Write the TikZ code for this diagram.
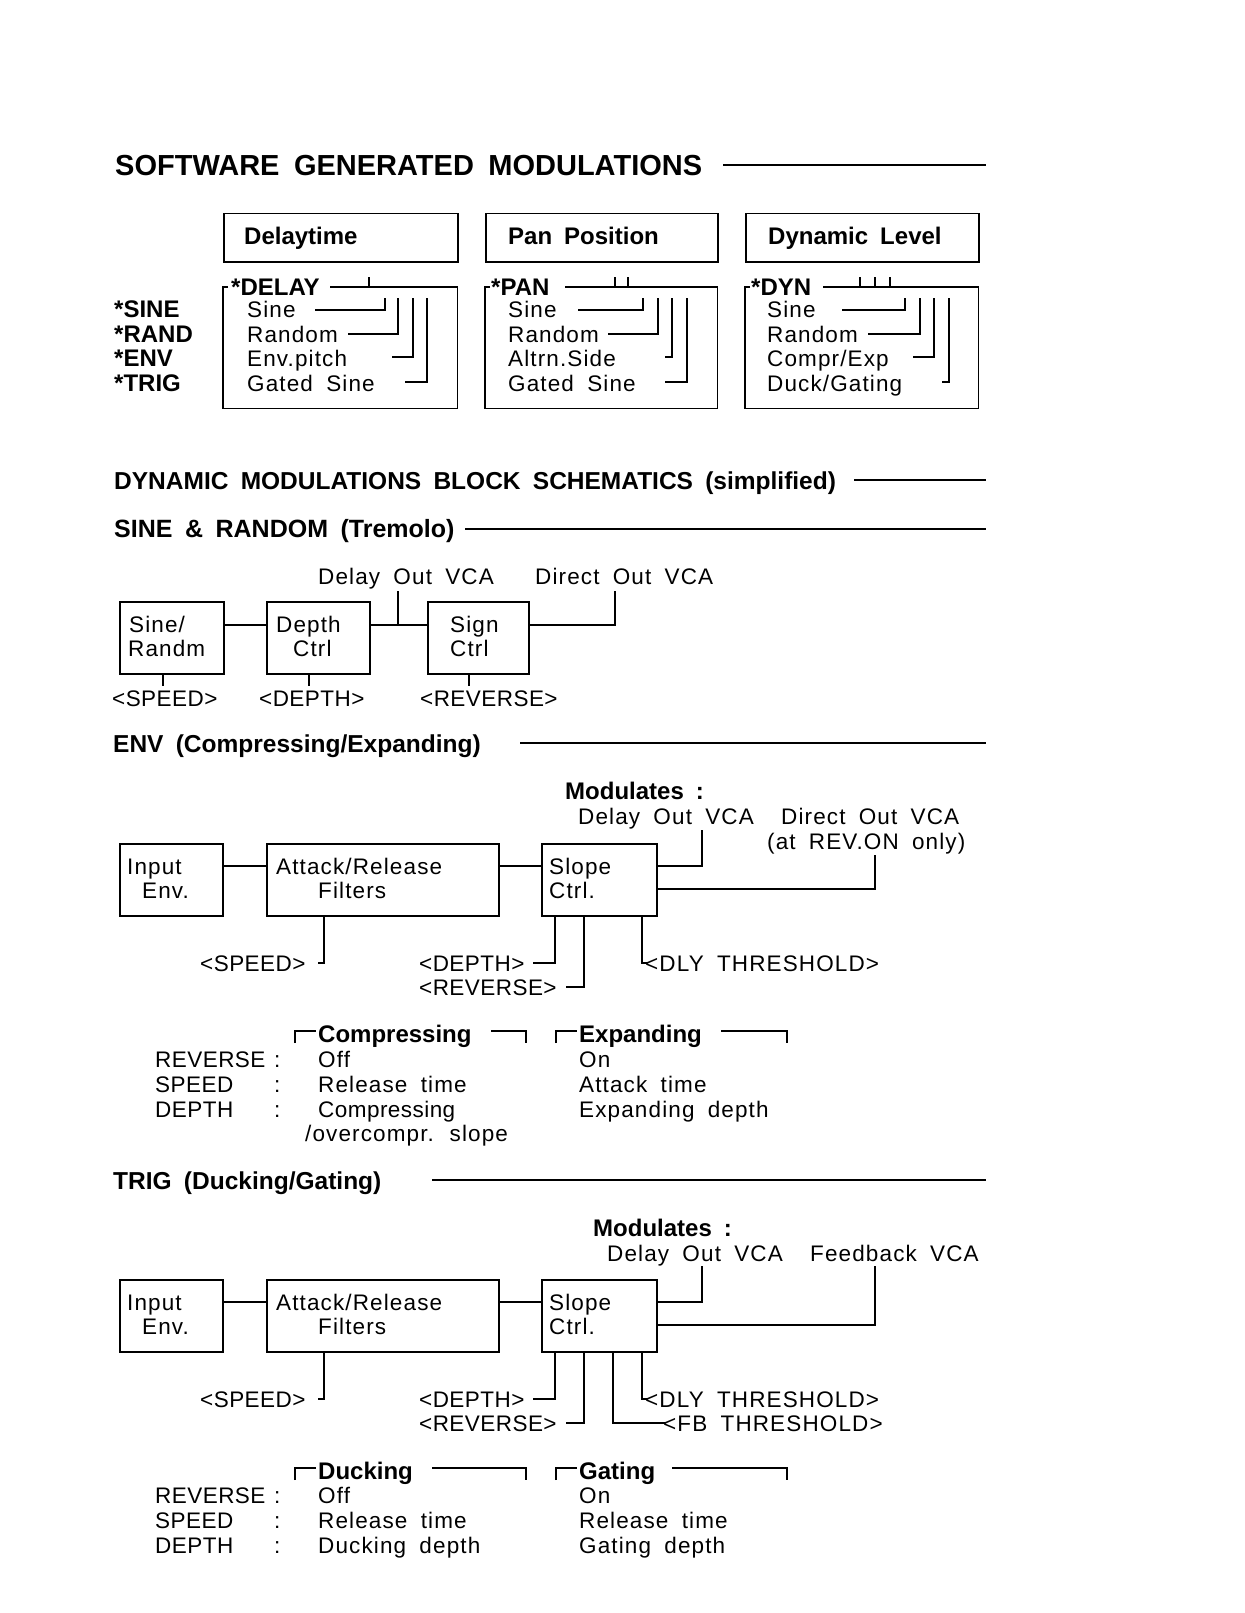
\documentclass[tikz,border=0pt]{standalone}
\usepackage{fontspec}
\setmainfont{Liberation Sans}
\newfontfamily\rfam{Liberation Sans}[LetterSpace=5,WordSpace=1.8]
\newfontfamily\nfam{Liberation Sans}[LetterSpace=2,WordSpace=1.5]
\newfontfamily\bfam{Liberation Sans}[WordSpace=1.8]
\tikzset{
 box/.style={draw, line width=1.5pt, inner sep=0pt, anchor=north west},
 frame/.style={inner sep=0pt, anchor=north west},
 rt/.style={anchor=base west, inner sep=0pt, font=\rfam\fontsize{22.5}{26}\selectfont},
 nt/.style={anchor=base west, inner sep=0pt, font=\nfam\fontsize{22.5}{26}\selectfont},
 bt/.style={anchor=base west, inner sep=0pt, font=\bfam\bfseries\fontsize{24}{28}\selectfont},
 ht/.style={anchor=base west, inner sep=0pt, font=\bfam\bfseries\fontsize{24.5}{29}\selectfont},
 tt/.style={anchor=base west, inner sep=0pt, font=\bfam\bfseries\fontsize{29}{33}\selectfont},
 ln/.style={line width=1.5pt},
 thin/.style={line width=1.2pt}
}
\begin{document}
\begin{tikzpicture}[x=1pt,y=-1pt]
\useasboundingbox (0,0) rectangle (1244,1613);

% ---------- Title ----------
\node[tt] (title) at (115,176) {SOFTWARE GENERATED MODULATIONS};
\coordinate (tl1) at (723,165); \coordinate (tl2) at (986,165);
\draw[ln] (tl1) -- (tl2);

% ---------- top boxes ----------
\node[box, minimum width=234pt, minimum height=48pt] (bdt) at (223,213) {};
\node[bt] (tdt) at (244,245) {Delaytime};
\node[box, minimum width=232pt, minimum height=48pt] (bpp) at (485,213) {};
\node[bt] (tpp) at (508,245) {Pan Position};
\node[box, minimum width=233pt, minimum height=48pt] (bdl) at (745,213) {};
\node[bt] (tdl) at (768,245) {Dynamic Level};

% left labels
\node[bt] (ls1) at (114,317) {*SINE};
\node[bt] (ls2) at (114,342) {*RAND};
\node[bt] (ls3) at (114,366) {*ENV};
\node[bt] (ls4) at (114,391) {*TRIG};

% DELAY box
\node[frame, minimum width=234pt, minimum height=121pt] (ldel) at (223,287) {};
\draw[ln] ([xshift=5pt]ldel.north west) -- (ldel.north west) -- (ldel.south west) -- (ldel.south east) -- (ldel.north east) -- (330,287);
\draw[ln] (369,287) -- (369,277);
\node[bt] (tdel) at (231,295) {*DELAY};
\node[rt] (d1) at (247,317) {Sine};
\node[rt] (d2) at (247,342) {Random};
\node[rt] (d3) at (247,366) {Env.pitch};
\node[rt] (d4) at (247,391) {Gated Sine};
\draw[ln] (315,310) -| (385,298);
\draw[ln] (348,334) -| (398,298);
\draw[ln] (392,357) -| (413,298);
\draw[ln] (405,382) -| (427,298);

% PAN box
\node[frame, minimum width=232pt, minimum height=121pt] (lpan) at (485,287) {};
\draw[ln] ([xshift=5pt]lpan.north west) -- (lpan.north west) -- (lpan.south west) -- (lpan.south east) -- (lpan.north east) -- (565,287);
\draw[ln] (615,287) -- (615,277);
\draw[ln] (628,287) -- (628,277);
\node[bt] (tpan) at (491,295) {*PAN};
\node[rt] (p1) at (508,317) {Sine};
\node[rt] (p2) at (508,342) {Random};
\node[rt] (p3) at (508,366) {Altrn.Side};
\node[rt] (p4) at (508,391) {Gated Sine};
\draw[ln] (578,310) -| (643,298);
\draw[ln] (608,334) -| (658,298);
\draw[ln] (665,357) -| (672,298);
\draw[ln] (665,382) -| (687,298);

% DYN box
\node[frame, minimum width=233pt, minimum height=121pt] (ldyn) at (745,287) {};
\draw[ln] ([xshift=5pt]ldyn.north west) -- (ldyn.north west) -- (ldyn.south west) -- (ldyn.south east) -- (ldyn.north east) -- (823,287);
\draw[ln] (860,287) -- (860,277);
\draw[ln] (875,287) -- (875,277);
\draw[ln] (890,287) -- (890,277);
\node[bt] (tdyn) at (751,295) {*DYN};
\node[rt] (y1) at (767,317) {Sine};
\node[rt] (y2) at (767,342) {Random};
\node[rt] (y3) at (767,366) {Compr/Exp};
\node[rt] (y4) at (767,391) {Duck/Gating};
\draw[ln] (842,310) -| (905,298);
\draw[ln] (868,334) -| (920,298);
\draw[ln] (913,357) -| (934,298);
\draw[ln] (942,382) -| (949,298);

% ---------- headings ----------
\node[ht] (h1) at (114,489) {DYNAMIC MODULATIONS BLOCK SCHEMATICS (simplified)};
\draw[ln] (854,480) -- (986,480);
\node[ht, font=\bfam\bfseries\fontsize{25}{29}\selectfont] (h2) at (114,537) {SINE \& RANDOM (Tremolo)};
\draw[ln] (465,529) -- (986,529);

% ---------- Sine & Random ----------
\node[rt] (dov0) at (318,584) {Delay Out VCA};
\node[rt] (dir0) at (535,584) {Direct Out VCA};
\node[box, minimum width=104pt, minimum height=72pt] (sr) at (119,601) {};
\node[box, minimum width=103pt, minimum height=72pt] (dc) at (266,601) {};
\node[box, minimum width=101pt, minimum height=72pt] (sc) at (427,601) {};
\node[rt] (sr1) at (129,632) {Sine/};
\node[rt] (sr2) at (128,656) {Randm};
\node[rt] (dc1) at (276,632) {Depth};
\node[rt] (dc2) at (293,656) {Ctrl};
\node[rt] (sc1) at (450,632) {Sign};
\node[rt] (sc2) at (450,656) {Ctrl};
\draw[ln] ([yshift=-24pt]sr.north east) -- ([yshift=-24pt]dc.north west);
\draw[ln] ([yshift=-24pt]dc.north east) -- ([yshift=-24pt]sc.north west);
\coordinate (j0) at (398,625); \coordinate (j0t) at (398,591);
\draw[ln] (j0) -- (j0t);
\coordinate (k0t) at (615,591);
\draw[ln] ([yshift=-24pt]sc.north east) -| (k0t);
\node[nt] (sp0) at (112,706) {<SPEED>};
\node[nt] (de0) at (259,706) {<DEPTH>};
\node[nt] (re0) at (420,706) {<REVERSE>};
\draw[ln] ([xshift=44pt]sr.south west) -- ++(0,11);
\draw[ln] ([xshift=43pt]dc.south west) -- ++(0,11);
\draw[ln] ([xshift=42pt]sc.south west) -- ++(0,11);

% ---------- ENV ----------
\node[ht] (h3) at (113,752) {ENV (Compressing/Expanding)};
\draw[ln] (520,743) -- (986,743);
\node[bt] (m1) at (565,799) {Modulates :};
\node[rt] (dov1) at (578,824) {Delay Out VCA};
\node[rt] (dir1) at (781,824) {Direct Out VCA};
\node[rt] (rev1) at (767,849) {(at REV.ON only)};
\node[box, minimum width=103pt, minimum height=72pt] (ie1) at (119,843) {};
\node[box, minimum width=232pt, minimum height=72pt] (ar1) at (266,843) {};
\node[box, minimum width=115pt, minimum height=72pt] (sl1) at (541,843) {};
\node[rt] (ie1a) at (127,874) {Input};
\node[rt] (ie1b) at (142,898) {Env.};
\node[rt] (ar1a) at (276,874) {Attack/Release};
\node[rt] (ar1b) at (318,898) {Filters};
\node[rt] (sl1a) at (549,874) {Slope};
\node[rt] (sl1b) at (549,898) {Ctrl.};
\draw[ln] ([yshift=-23pt]ie1.north east) -- ([yshift=-23pt]ar1.north west);
\draw[ln] ([yshift=-23pt]ar1.north east) -- ([yshift=-23pt]sl1.north west);
\coordinate (e1a) at (702,830); \coordinate (e1b) at (875,855);
\draw[ln] ([yshift=-23pt]sl1.north east) -| (e1a);
\draw[ln] ([yshift=-46pt]sl1.north east) -| (e1b);
\node[nt] (sp1) at (200,971) {<SPEED>};
\node[nt] (de1) at (419,971) {<DEPTH>};
\node[nt] (re1) at (419,995) {<REVERSE>};
\node[rt] (dl1) at (645,971) {<DLY THRESHOLD>};
\coordinate (e1s) at (318,963); \coordinate (e1d) at (533,963);
\coordinate (e1r) at (566,987); \coordinate (e1l) at (647,963);
\draw[ln] ([xshift=58pt]ar1.south west) |- (e1s);
\draw[ln] ([xshift=14pt]sl1.south west) |- (e1d);
\draw[ln] ([xshift=43pt]sl1.south west) |- (e1r);
\draw[ln] ([xshift=101pt]sl1.south west) |- (e1l);

% ENV table
\node[bt] (c1h) at (318,1042) {Compressing};
\draw[thin] (295,1043) |- (316,1031);
\draw[thin] (491,1031) -| (526,1043);
\node[bt] (x1h) at (579,1042) {Expanding};
\draw[thin] (556,1043) |- (577,1031);
\draw[thin] (721,1031) -| (787,1043);
\node[nt] (r1a) at (155,1067) {REVERSE};
\node[nt] (r1b) at (155,1092) {SPEED};
\node[nt] (r1c) at (155,1117) {DEPTH};
\node[nt] (q1a) at (274,1067) {:};
\node[nt] (q1b) at (274,1092) {:};
\node[nt] (q1c) at (274,1117) {:};
\node[rt] (v1a) at (318,1067) {Off};
\node[rt] (v1b) at (318,1092) {Release time};
\node[nt] (v1c) at (318,1117) {Compressing};
\node[rt] (v1d) at (305,1141) {/overcompr. slope};
\node[rt] (w1a) at (579,1067) {On};
\node[rt] (w1b) at (579,1092) {Attack time};
\node[rt] (w1c) at (579,1117) {Expanding depth};

% ---------- TRIG ----------
\node[ht] (h4) at (113,1189) {TRIG (Ducking/Gating)};
\draw[ln] (432,1180) -- (986,1180);
\node[bt] (m2) at (593,1236) {Modulates :};
\node[rt] (dov2) at (607,1261) {Delay Out VCA};
\node[rt] (fb2) at (810,1261) {Feedback VCA};
\node[box, minimum width=103pt, minimum height=72pt] (ie2) at (119,1279) {};
\node[box, minimum width=232pt, minimum height=72pt] (ar2) at (266,1279) {};
\node[box, minimum width=115pt, minimum height=72pt] (sl2) at (541,1279) {};
\node[rt] (ie2a) at (127,1310) {Input};
\node[rt] (ie2b) at (142,1334) {Env.};
\node[rt] (ar2a) at (276,1310) {Attack/Release};
\node[rt] (ar2b) at (318,1334) {Filters};
\node[rt] (sl2a) at (549,1310) {Slope};
\node[rt] (sl2b) at (549,1334) {Ctrl.};
\draw[ln] ([yshift=-23pt]ie2.north east) -- ([yshift=-23pt]ar2.north west);
\draw[ln] ([yshift=-23pt]ar2.north east) -- ([yshift=-23pt]sl2.north west);
\coordinate (e2a) at (702,1266); \coordinate (e2b) at (875,1266);
\draw[ln] ([yshift=-23pt]sl2.north east) -| (e2a);
\draw[ln] ([yshift=-46pt]sl2.north east) -| (e2b);
\node[nt] (sp2) at (200,1407) {<SPEED>};
\node[nt] (de2) at (419,1407) {<DEPTH>};
\node[nt] (re2) at (419,1431) {<REVERSE>};
\node[rt] (dl2) at (645,1407) {<DLY THRESHOLD>};
\node[rt] (fbt2) at (663,1431) {<FB THRESHOLD>};
\coordinate (e2s) at (318,1399); \coordinate (e2d) at (533,1399);
\coordinate (e2r) at (566,1423); \coordinate (e2l) at (647,1399);
\coordinate (e2f) at (665,1423);
\draw[ln] ([xshift=58pt]ar2.south west) |- (e2s);
\draw[ln] ([xshift=14pt]sl2.south west) |- (e2d);
\draw[ln] ([xshift=43pt]sl2.south west) |- (e2r);
\draw[ln] ([xshift=72pt]sl2.south west) |- (e2f);
\draw[ln] ([xshift=101pt]sl2.south west) |- (e2l);

% TRIG table
\node[bt] (c2h) at (318,1479) {Ducking};
\draw[thin] (295,1480) |- (316,1468);
\draw[thin] (432,1468) -| (526,1480);
\node[bt] (x2h) at (579,1479) {Gating};
\draw[thin] (556,1480) |- (577,1468);
\draw[thin] (672,1468) -| (787,1480);
\node[nt] (r2a) at (155,1503) {REVERSE};
\node[nt] (r2b) at (155,1528) {SPEED};
\node[nt] (r2c) at (155,1553) {DEPTH};
\node[nt] (q2a) at (274,1503) {:};
\node[nt] (q2b) at (274,1528) {:};
\node[nt] (q2c) at (274,1553) {:};
\node[rt] (v2a) at (318,1503) {Off};
\node[rt] (v2b) at (318,1528) {Release time};
\node[rt] (v2c) at (318,1553) {Ducking depth};
\node[rt] (w2a) at (579,1503) {On};
\node[rt] (w2b) at (579,1528) {Release time};
\node[rt] (w2c) at (579,1553) {Gating depth};
\end{tikzpicture}
\end{document}
